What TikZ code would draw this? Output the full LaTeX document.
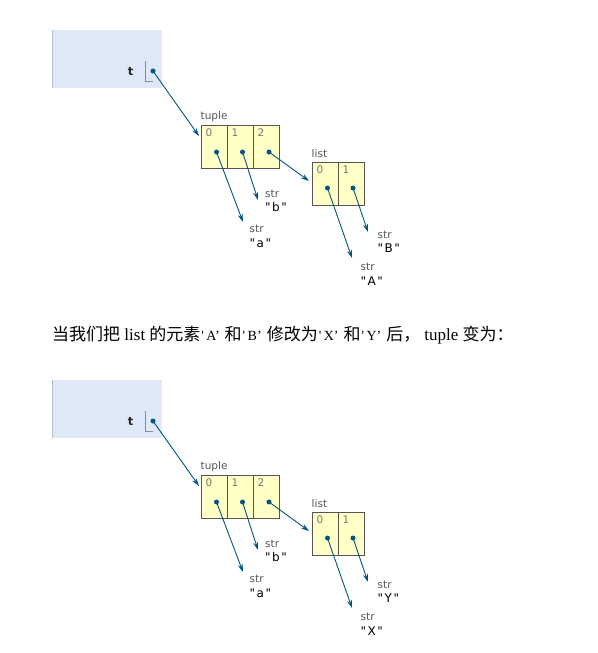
\documentclass[tikz,border=0pt]{standalone}
\usepackage{fontspec}
\setmainfont{Liberation Serif}
\newfontfamily\cjk{Noto Sans CJK SC}
\newfontfamily\vsans{DejaVu Sans}
\usetikzlibrary{arrows.meta}
\definecolor{frameblue}{HTML}{DFE8F6}
\definecolor{frameedge}{HTML}{B8BEC8}
\definecolor{cellyel}{HTML}{FFFFC6}
\definecolor{celledge}{HTML}{555555}
\definecolor{ptr}{HTML}{005583}
\definecolor{lab}{HTML}{555555}
\tikzset{
  framebox/.style={fill=frameblue, draw=none, anchor=north west, inner sep=0, minimum width=110pt, minimum height=58pt},
  cellbox/.style={fill=cellyel, draw=celledge, line width=0.8pt, anchor=north west, inner sep=0, minimum width=26pt, minimum height=43pt},
  idxlab/.style={font=\vsans\fontsize{10.5}{12}\selectfont, text=lab!80, anchor=north west, inner sep=0},
  typelab/.style={font=\vsans\fontsize{10.5}{12}\selectfont, text=lab, anchor=west, inner sep=0},
  vallab/.style={font=\vsans\fontsize{12}{14}\selectfont, text=black, anchor=west, inner sep=0},
  ptrdot/.style={circle, fill=ptr, inner sep=0, minimum size=5pt},
  ptrarrow/.style={draw=ptr, line width=0.9pt, -{Stealth[length=8pt,width=5pt]}},
}
\newcommand\qv[1]{"\hspace{1.5pt}#1\hspace{1.5pt}"}
\newcommand\qc[1]{{\fontsize{14}{16}\selectfont\hspace{1pt}\textquotesingle\hspace{2.5pt}#1’\hspace{5pt}}}
\newcommand\drawviz[4]{%
  \begin{scope}[yshift=-#1pt]
    % frame
    \node[framebox] (frame#2) at (52,30) {};
    \draw[frameedge, line width=1pt] (frame#2.north west) -- (frame#2.south west);
    \node[font=\vsans\bfseries\fontsize{11.5}{13}\selectfont, text=black!85, inner sep=0] (tvar#2) at (130.5,71) {t};
    \coordinate (pt#2a) at (145.5,61);
    \coordinate (pt#2b) at (145.5,81);
    \coordinate (pt#2c) at (153,81);
    \draw[black!45, line width=0.7pt] (pt#2a) -- (pt#2b) -- (pt#2c);
    \node[ptrdot] (tdot#2) at (153,71) {};
    % tuple
    \node[typelab] (tuplelab#2) at (200.5,117) {tuple};
    \node[cellbox] (tc0#2) at (201,125) {};
    \node[cellbox] (tc1#2) at (227,125) {};
    \node[cellbox] (tc2#2) at (253,125) {};
    \node[idxlab] (ti0#2) at (205.5,129) {0};
    \node[idxlab] (ti1#2) at (231.5,129) {1};
    \node[idxlab] (ti2#2) at (257.5,129) {2};
    \node[ptrdot] (td0#2) at (216.5,152) {};
    \node[ptrdot] (td1#2) at (242.5,152) {};
    \node[ptrdot] (td2#2) at (269,152) {};
    % list
    \node[typelab] (listlab#2) at (311.5,154) {list};
    \node[cellbox] (lc0#2) at (312,162) {};
    \node[cellbox] (lc1#2) at (338,162) {};
    \node[idxlab] (li0#2) at (316.5,166) {0};
    \node[idxlab] (li1#2) at (342.5,166) {1};
    \node[ptrdot] (ld0#2) at (327.5,188) {};
    \node[ptrdot] (ld1#2) at (353,188) {};
    % strings
    \node[typelab] (sa#2) at (249.5,229) {str};
    \node[vallab] (va#2) at (249.5,243) {\qv{a}};
    \node[typelab] (sb#2) at (265,193.5) {str};
    \node[vallab] (vb#2) at (265,207.5) {\qv{b}};
    \node[typelab] (sA#2) at (360.5,267) {str};
    \node[vallab] (vA#2) at (360.5,281) {\qv{#3}};
    \node[typelab] (sB#2) at (377.5,234.5) {str};
    \node[vallab] (vB#2) at (377.5,248.5) {\qv{#4}};
    % arrow targets
    \coordinate (ttup#2) at (199,136);
    \coordinate (tlist#2) at (309,181);
    \coordinate (ta#2) at (243,222);
    \coordinate (tb#2) at (258,200);
    \coordinate (tA#2) at (352,258);
    \coordinate (tB#2) at (368,232);
    % arrows
    \draw[ptrarrow] (tdot#2.center) -- (ttup#2);
    \draw[ptrarrow] (td0#2.center) -- (ta#2);
    \draw[ptrarrow] (td1#2.center) -- (tb#2);
    \draw[ptrarrow] (td2#2.center) -- (tlist#2);
    \draw[ptrarrow] (ld0#2.center) -- (tA#2);
    \draw[ptrarrow] (ld1#2.center) -- (tB#2);
  \end{scope}%
}
\begin{document}
\begin{tikzpicture}[x=1pt, y=-1pt]
  \useasboundingbox[fill=white] (0,0) rectangle (597,653);
  \drawviz{0}{u}{A}{B}
  \node[anchor=west, inner sep=0, font=\fontsize{17}{19}\selectfont] (caption) at (52,335)
    {{\cjk 当我们把} list {\cjk 的元素}\qc{A}{\cjk 和}\qc{B}{\cjk 修改为}\qc{X}{\cjk 和}\qc{Y}{\cjk 后，}\hspace{4pt}tuple {\cjk 变为：}};
  \drawviz{350}{v}{X}{Y}
\end{tikzpicture}
\end{document}
